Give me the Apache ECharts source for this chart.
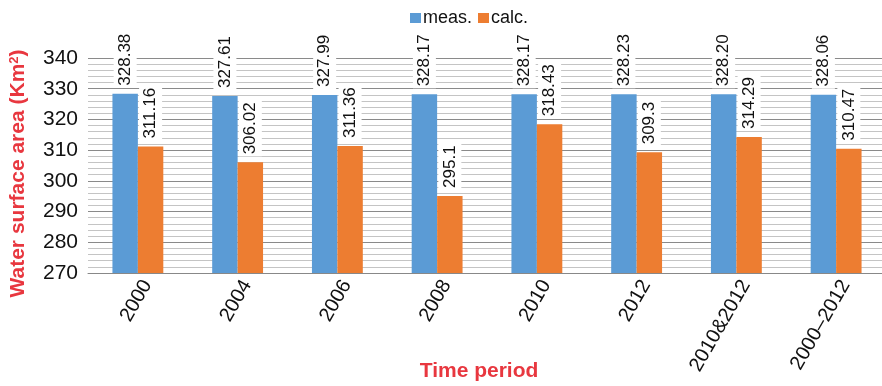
<!DOCTYPE html>
<html><head><meta charset="utf-8">
<script src="https://cdn.jsdelivr.net/npm/echarts@6/dist/echarts.min.js"></script>
<style>html,body{margin:0;padding:0;background:#fff}#c{width:882px;height:386px}</style>
</head><body><div id="c"></div>
<script>
const categories = ['2000','2004','2006','2008','2010','2012','2010&2012','2000\u20132012'];
const measValues = [328.38, 327.61, 327.99, 328.17, 328.17, 328.23, 328.20, 328.06];
const calcValues = [311.16, 306.02, 311.36, 295.1, 318.43, 309.3, 314.29, 310.47];
const measLabels = ['328.38','327.61','327.99','328.17','328.17','328.23','328.20','328.06'];
const calcLabels = ['311.16','306.02','311.36','295.1','318.43','309.3','314.29','310.47'];
const yTicks = [270, 280, 290, 300, 310, 320, 330, 340];

const FONT = '"Liberation Sans", Arial, Helvetica, sans-serif';
const chart = echarts.init(document.getElementById('c'));
function lbl(arr){
  return {
    show: true, position: 'top', rotate: 90, align: 'left', verticalAlign: 'middle',
    distance: 6, color: '#111', fontSize: 17, fontFamily: FONT,
    backgroundColor: '#fff', padding: [4, 2, 2, 2],
    formatter: p => arr[p.dataIndex]
  };
}
chart.setOption({
  animation: false,
  textStyle: { fontFamily: FONT },
  legend: {
    top: 4, left: 405, itemWidth: 11, itemHeight: 10, itemGap: 6,
    textStyle: { fontSize: 18, color: '#111', padding: [0, 0, 0, -3] },
    data: [{ name: 'meas.', icon: 'rect' }, { name: 'calc.', icon: 'rect' }]
  },
  grid: { left: 88, right: -4, top: 58, bottom: 113, containLabel: false, outerBoundsMode: 'none' },
  xAxis: {
    type: 'category', data: categories,
    axisLine: { show: true, lineStyle: { color: '#888', width: 1 } },
    axisTick: { show: false },
    axisLabel: { rotate: 60, fontSize: 20, color: '#111', margin: 3, interval: 0, verticalAlign: 'top', lineHeight: 22 },
    name: 'Time period', nameLocation: 'middle', nameGap: 88, nameMoveOverlap: false,
    nameTextStyle: { color: '#e8373f', fontSize: 21, fontWeight: 'bold', padding: [0, 16, 0, 0] }
  },
  yAxis: {
    type: 'value', min: yTicks[0], max: yTicks[yTicks.length - 1], interval: 10,
    axisLine: { show: false }, axisTick: { show: false },
    axisLabel: { fontSize: 21, color: '#111', margin: 10 },
    splitLine: { show: true, lineStyle: { color: '#8a8a8a', width: 1.2 } },
    minorTick: { show: false, splitNumber: 5 },
    minorSplitLine: { show: true, lineStyle: { color: '#c4c4c4', width: 1.2 } },
    name: '{a|Water surface area (Km}{s|2}{a|)}', nameLocation: 'middle', nameGap: 59, nameMoveOverlap: false,
    nameTextStyle: {
      padding: [0, 16, 0, 0],
      rich: {
        a: { color: '#e8373f', fontSize: 21, fontWeight: 'bold', fontFamily: FONT },
        s: { color: '#e8373f', fontSize: 13, fontWeight: 'bold', fontFamily: FONT, verticalAlign: 'top', padding: [0, 0, 8, 0] }
      }
    }
  },
  series: [
    { name: 'meas.', type: 'bar', data: measValues, barGap: '0%', barCategoryGap: '49%',
      itemStyle: { color: '#5b9bd5' }, label: lbl(measLabels) },
    { name: 'calc.', type: 'bar', data: calcValues, barGap: '0%', barCategoryGap: '49%',
      itemStyle: { color: '#ed7d31' }, label: lbl(calcLabels) }
  ]
});
</script></body></html>
